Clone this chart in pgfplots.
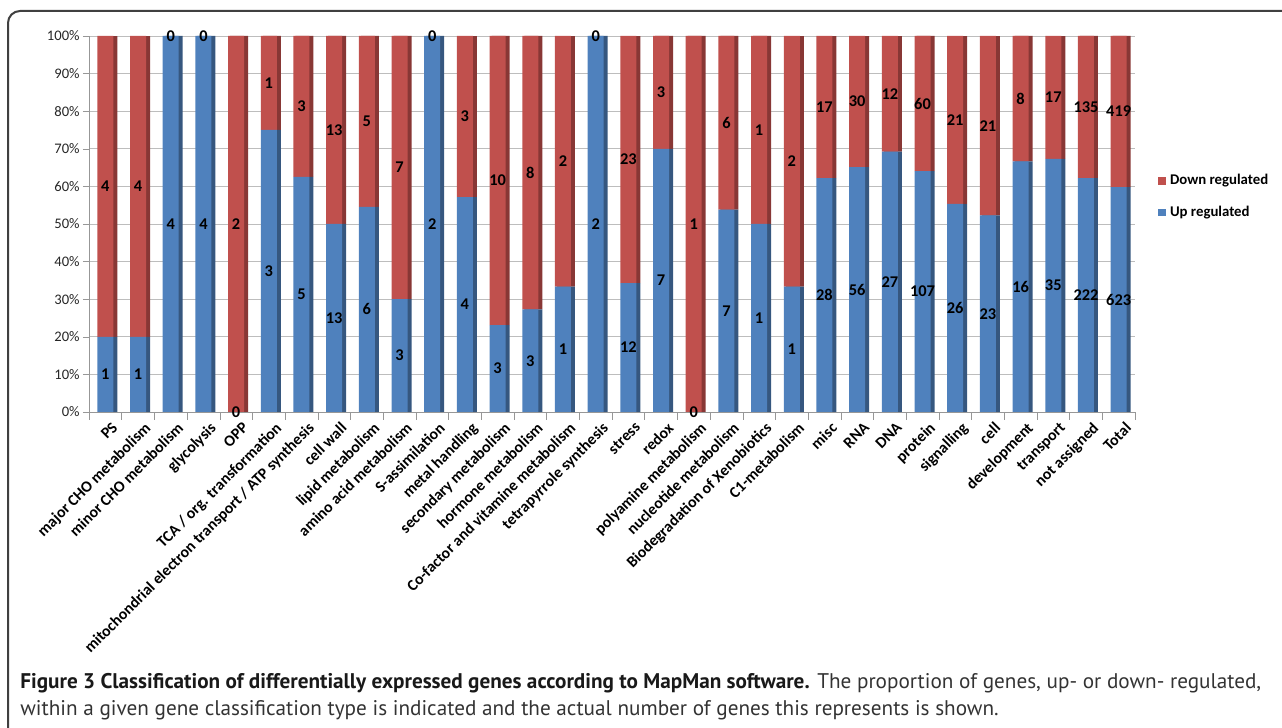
\documentclass[border=0pt]{standalone}
\usepackage{pgfplots}
\pgfplotsset{compat=1.18}
\usepackage{pgfplotstable}
\usepackage{fontspec}
\setmainfont{Carlito}
\newfontfamily\capfont{PT Sans}

\definecolor{upblue}{HTML}{4F81BD}
\definecolor{upside}{HTML}{36577F}
\definecolor{downred}{HTML}{C0504D}
\definecolor{downside}{HTML}{883735}
\definecolor{gridgray}{HTML}{BDBDBD}

% counts of genes per MapMan bin: up / down regulated
\pgfplotstableread{
x up down
0 1 4
1 1 4
2 4 0
3 4 0
4 0 2
5 3 1
6 5 3
7 13 13
8 6 5
9 3 7
10 2 0
11 4 3
12 3 10
13 3 8
14 1 2
15 2 0
16 12 23
17 7 3
18 0 1
19 7 6
20 1 1
21 1 2
22 28 17
23 56 30
24 27 12
25 107 60
26 26 21
27 23 21
28 16 8
29 35 17
30 222 135
31 623 419
}\genes

\pgfplotsset{
  mapframe/.style={
    scale only axis, width=523pt, height=188pt,
    at={(44.5pt,158pt)}, anchor=south west,
    xmin=-0.5, xmax=31.5, ymin=0, ymax=100,
  },
}

\begin{document}
\begin{tikzpicture}
\path[use as bounding box] (0,0) rectangle (641pt,364pt);
\begin{scope}
\clip (0,0) rectangle (641pt,364pt);
\draw[black!75, line width=1pt, rounded corners=6pt] (4pt,-20pt) rectangle (670pt,358.5pt);
\end{scope}

% back: grid, axes, tick labels and the dark side faces
\begin{axis}[mapframe,
    ybar stacked, bar width=9pt, bar shift=1.5pt,
    axis x line*=bottom, axis y line*=left,
    axis line style={gridgray!80!black},
    ymajorgrids, grid style={gridgray},
    ytick={0,10,...,100},
    yticklabels={0\%,10\%,20\%,30\%,40\%,50\%,60\%,70\%,80\%,90\%,100\%},
    xtick={0,...,31},
    xticklabels={PS, major CHO metabolism, minor CHO metabolism, glycolysis, OPP,
      TCA / org. transformation, mitochondrial electron transport / ATP synthesis,
      cell wall, lipid metabolism, amino acid metabolism, S-assimilation,
      metal handling, secondary metabolism, hormone metabolism,
      Co-factor and vitamine metabolism, tetrapyrrole synthesis, stress, redox,
      polyamine metabolism, nucleotide metabolism, Biodegradation of Xenobiotics,
      C1-metabolism, misc, RNA, DNA, protein, signalling, cell, development,
      transport, not assigned, Total},
    minor xtick={-0.5,0.5,...,31.5},
    major x tick style={draw=none},
    minor x tick style={gridgray!80!black},
    y tick style={gridgray!80!black},
    tick align=outside, major tick length=3pt, minor tick length=4pt,
    /pgf/number format/assume math mode=true,
    yticklabel style={font=\fontsize{7.3}{8}\selectfont, text=black!85, inner sep=1.5pt},
    xticklabel style={rotate=45, anchor=north east, inner sep=1pt, yshift=-2pt, xshift=2pt,
      font=\bfseries\fontsize{7.9}{9}\selectfont},
  ]
\addplot[fill=upside, draw=none] table[x=x, y expr=100*\thisrow{up}/(\thisrow{up}+\thisrow{down})]{\genes};
\addplot[fill=downside, draw=none] table[x=x, y expr=100*\thisrow{down}/(\thisrow{up}+\thisrow{down})]{\genes};
\end{axis}

% front faces of the bars and the legend
\begin{axis}[mapframe, hide axis,
    ybar stacked, bar width=8pt,
    reverse legend,
    legend style={at={(1.022,0.572)}, anchor=west, draw=none, fill=none,
      font=\bfseries\fontsize{7.4}{9}\selectfont, row sep=5pt, inner sep=0pt},
    legend cell align=left,
    legend image code/.code={\fill[#1] (0pt,-1.9pt) rectangle (3.8pt,1.9pt);},
  ]
\addplot[fill=upblue, draw=none] table[x=x, y expr=100*\thisrow{up}/(\thisrow{up}+\thisrow{down})]{\genes};
\addlegendentry{Up regulated}
\addplot[fill=downred, draw=none] table[x=x, y expr=100*\thisrow{down}/(\thisrow{up}+\thisrow{down})]{\genes};
\addlegendentry{Down regulated}
\end{axis}

% counts written in the middle of each segment
\begin{axis}[mapframe, hide axis,
    nodes near coords, point meta=explicit symbolic,
    every node near coord/.append style={anchor=center, inner sep=0pt,
      font=\bfseries\fontsize{8.2}{9}\selectfont, text=black},
  ]
\addplot[draw=none, mark=none] table[x=x, y expr=50*\thisrow{up}/(\thisrow{up}+\thisrow{down}), meta=up]{\genes};
\addplot[draw=none, mark=none] table[x=x, y expr=100*\thisrow{up}/(\thisrow{up}+\thisrow{down})+50*\thisrow{down}/(\thisrow{up}+\thisrow{down}), meta=down]{\genes};
\end{axis}

\node[anchor=base west, inner sep=0pt, text=black!80, font=\capfont\fontsize{10.6}{12}\selectfont]
  at (10pt,19.5pt) {\textbf{\color{black!90}Figure 3 Classification of differentially expressed genes according to MapMan software.} The proportion of genes, up- or down- regulated,};
\node[anchor=base west, inner sep=0pt, text=black!80, font=\capfont\fontsize{10.6}{12}\selectfont]
  at (10pt,6pt) {within a given gene classification type is indicated and the actual number of genes this represents is shown.};
\end{tikzpicture}
\end{document}
